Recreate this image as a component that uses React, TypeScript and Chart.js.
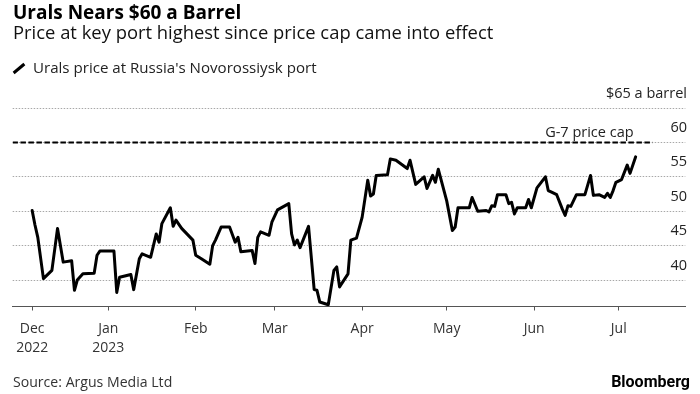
import React, { useEffect, useRef } from "react";
import { Chart, registerables } from "chart.js";

Chart.register(...registerables);

// ---- data ----
const decDates = ["2022-12-05","2022-12-06","2022-12-07","2022-12-09","2022-12-12","2022-12-14","2022-12-16","2022-12-19","2022-12-20","2022-12-21","2022-12-23","2022-12-27","2022-12-28","2022-12-29"];
const decPrices = [50.1, 48, 46.2, 40.2, 41.4, 47.5, 42.6, 42.8, 38.5, 40, 40.9, 41, 43.6, 44.2];
const janDates = ["2023-01-03","2023-01-04","2023-01-05","2023-01-09","2023-01-10","2023-01-12","2023-01-13","2023-01-16","2023-01-18","2023-01-19","2023-01-20","2023-01-23","2023-01-24","2023-01-25","2023-01-27","2023-01-31"];
const janPrices = [44.2, 38.2, 40.4, 40.8, 38.6, 43.1, 43.8, 43.3, 46.7, 45.5, 48.2, 50.5, 47.8, 48.7, 47.5, 45.8];
const febDates = ["2023-02-01","2023-02-03","2023-02-06","2023-02-07","2023-02-08","2023-02-10","2023-02-13","2023-02-15","2023-02-16","2023-02-17","2023-02-21","2023-02-22","2023-02-23","2023-02-24","2023-02-27","2023-02-28"];
const febPrices = [43.6, 43.1, 42.3, 45, 45.8, 47.7, 47.7, 45.5, 46.2, 44.1, 44.3, 42.4, 46.2, 47, 46.5, 48.4];
const marDates = ["2023-03-02","2023-03-06","2023-03-07","2023-03-08","2023-03-09","2023-03-10","2023-03-13","2023-03-15","2023-03-16","2023-03-17","2023-03-20","2023-03-22","2023-03-23","2023-03-24","2023-03-27","2023-03-28","2023-03-30"];
const marPrices = [50.2, 51.1, 46.7, 45.1, 45.8, 44.7, 47.8, 38.6, 38.5, 36.8, 36.4, 41.4, 41.9, 39, 40.9, 45.8, 46.1];
const aprDates = ["2023-04-01","2023-04-03","2023-04-04","2023-04-05","2023-04-06","2023-04-10","2023-04-11","2023-04-13","2023-04-17","2023-04-18","2023-04-20","2023-04-23","2023-04-24","2023-04-26","2023-04-27","2023-04-28"];
const aprPrices = [49.1, 54.5, 52.2, 52.5, 55.2, 55.3, 57.6, 57.4, 56.2, 57.4, 53.9, 55, 53.3, 55.2, 54.2, 56.1];
const mayDates = ["2023-05-01","2023-05-03","2023-05-04","2023-05-05","2023-05-09","2023-05-10","2023-05-12","2023-05-15","2023-05-16","2023-05-17","2023-05-18","2023-05-19","2023-05-22","2023-05-23","2023-05-24","2023-05-25","2023-05-26","2023-05-29","2023-05-30","2023-05-31"];
const mayPrices = [51.5, 47.2, 47.7, 50.5, 50.5, 52, 50, 50.1, 49.9, 50.8, 50.7, 52.4, 52.4, 51.1, 51.3, 49.6, 50.5, 50.5, 51.7, 50.5];
const junDates = ["2023-06-02","2023-06-05","2023-06-06","2023-06-07","2023-06-09","2023-06-11","2023-06-12","2023-06-13","2023-06-14","2023-06-16","2023-06-19","2023-06-21","2023-06-22","2023-06-24","2023-06-26","2023-06-27","2023-06-28","2023-06-29","2023-06-30"];
const junPrices = [53.4, 55, 53, 52.8, 52.4, 50.3, 49.4, 50.8, 50.7, 52.4, 52.4, 55.2, 52.3, 52.4, 52, 52.6, 52, 53, 54.2];
const julDates = ["2023-07-02","2023-07-04","2023-07-05","2023-07-07"];
const julPrices = [54.6, 56.7, 55.5, 57.9];

const monthTickDates = ["2022-12-05","2023-01-01","2023-02-01","2023-03-01","2023-04-01","2023-05-01","2023-06-01","2023-07-01"];
const monthTickLabels = [["Dec","2022"],["Jan","2023"],["Feb"],["Mar"],["Apr"],["May"],["Jun"],["Jul"]];
const yTickValues = [40, 45, 50, 55, 60, 65];
const yTickLabels = ["40", "45", "50", "55", "60", "$65 a barrel"];
const priceCap = 60;
const capLineDates = ["2022-11-28", "2023-07-13"];
const capLabel = "G-7 price cap";
const seriesLabel = "Urals price at Russia's Novorossiysk port";
const titleText = "Urals Nears $60 a Barrel";
const subtitleText = "Price at key port highest since price cap came into effect";
const sourceText = "Source: Argus Media Ltd";
const brandText = "Bloomberg";

const xMinDay = -2.9;
const xMaxDay = 235.6;
const yMin = 36.15;
const yMax = 65;

const allDates = [...decDates, ...janDates, ...febDates, ...marDates, ...aprDates, ...mayDates, ...junDates, ...julDates];
const allPrices = [...decPrices, ...janPrices, ...febPrices, ...marPrices, ...aprPrices, ...mayPrices, ...junPrices, ...julPrices];

const ORIGIN = Date.UTC(2022, 11, 1);
const dayOf = (s: string) => {
  const [y, m, d] = s.split("-").map(Number);
  return (Date.UTC(y, m - 1, d) - ORIGIN) / 86400000;
};

const FONT = "'Open Sans'";

const overlayPlugin = {
  id: "overlay",
  beforeDatasetsDraw(chart: any) {
    const { ctx, chartArea, scales } = chart;
    const y = scales.y;
    ctx.save();
    ctx.strokeStyle = "#a8a8a8";
    ctx.lineWidth = 1;
    ctx.setLineDash([1.5, 1.5]);
    yTickValues.forEach((v) => {
      const py = Math.round(y.getPixelForValue(v) - 0.5) + 0.5;
      ctx.beginPath();
      ctx.moveTo(chartArea.left, py);
      ctx.lineTo(chartArea.right, py);
      ctx.stroke();
    });
    ctx.restore();
  },
  afterDatasetsDraw(chart: any) {
    const { ctx, chartArea, scales } = chart;
    const x = scales.x;
    const y = scales.y;
    ctx.save();
    ctx.fillStyle = "#222";
    ctx.font = `14.5px ${FONT}`;
    ctx.textAlign = "right";
    ctx.textBaseline = "middle";
    yTickValues.forEach((v, i) => {
      const py = y.getPixelForValue(v);
      ctx.fillText(yTickLabels[i], chartArea.right + 1.7, py - 14.5);
    });
    ctx.textBaseline = "alphabetic";
    const capEnd = x.getPixelForValue(dayOf(capLineDates[1]));
    ctx.fillText(capLabel, capEnd - 19, y.getPixelForValue(priceCap) - 5);
    ctx.restore();
  },
};

export default function App() {
  const canvasRef = useRef<HTMLCanvasElement | null>(null);

  useEffect(() => {
    if (!canvasRef.current) return;
    const chart = new Chart(canvasRef.current, {
      type: "line",
      data: {
        datasets: [
          {
            label: seriesLabel,
            data: allDates.map((d, i) => ({ x: dayOf(d), y: allPrices[i] })),
            borderColor: "#000",
            borderWidth: 3,
            pointRadius: 0,
            tension: 0,
            borderJoinStyle: "round",
            borderCapStyle: "round",
            fill: false,
          },
          {
            label: capLabel,
            data: capLineDates.map((d) => ({ x: dayOf(d), y: priceCap })),
            borderColor: "#000",
            borderWidth: 2,
            borderDash: [5.5, 2.5],
            pointRadius: 0,
            fill: false,
          },
        ],
      },
      options: {
        responsive: false,
        animation: false,
        events: [],
        layout: { padding: { top: 108, left: 12.7, right: 14.7, bottom: 0 } },
        plugins: { legend: { display: false }, tooltip: { enabled: false }, title: { display: false } },
        scales: {
          x: {
            type: "linear",
            min: xMinDay,
            max: xMaxDay,
            afterBuildTicks: (scale: any) => {
              scale.ticks = monthTickDates.map((d) => ({ value: dayOf(d) }));
            },
            afterFit: (scale: any) => {
              scale.height = 87.5;
            },
            ticks: {
              autoSkip: false,
              maxRotation: 0,
              minRotation: 0,
              padding: 8.8,
              color: "#333",
              font: { family: FONT, size: 14, lineHeight: 1.35 },
              callback: (_v: any, i: number) => monthTickLabels[i],
            },
            grid: {
              display: true,
              drawOnChartArea: false,
              drawTicks: true,
              tickLength: 4,
              tickColor: "#555",
              tickWidth: 1,
            },
            border: { display: true, color: "#555", width: 1 },
          },
          y: {
            type: "linear",
            display: false,
            min: yMin,
            max: yMax,
          },
        },
      },
      plugins: [overlayPlugin],
    } as any);
    return () => chart.destroy();
  }, []);

  const base: React.CSSProperties = {
    position: "absolute",
    whiteSpace: "nowrap",
    fontFamily: FONT,
    margin: 0,
  };

  return (
    <div style={{ position: "absolute", left: 0, top: 0, width: 700, height: 394, background: "#fff", overflow: "hidden" }}>
      <canvas ref={canvasRef} width={700} height={394} style={{ position: "absolute", left: 0, top: 0, width: 700, height: 394 }} />
      <div style={{ ...base, left: 13, top: -0.4, fontSize: 19, lineHeight: "24px", fontWeight: 700, color: "#000" }}>{titleText}</div>
      <div style={{ ...base, left: 13, top: 21.2, fontSize: 18.4, lineHeight: "22px", color: "#111" }}>{subtitleText}</div>
      <div style={{ position: "absolute", left: 12, top: 67, width: 14, height: 3, background: "#000", transform: "rotate(-40deg)" }} />
      <div style={{ ...base, left: 33, top: 57.8, fontSize: 15.1, lineHeight: "18px", color: "#222" }}>{seriesLabel}</div>
      <div style={{ ...base, left: 13, top: 372.5, fontSize: 14.1, lineHeight: "18px", color: "#333" }}>{sourceText}</div>
      <div style={{ ...base, right: 10, top: 372.6, fontSize: 16, lineHeight: "18px", fontWeight: 700, color: "#000", fontFamily: "Roboto" }}>{brandText}</div>
    </div>
  );
}
